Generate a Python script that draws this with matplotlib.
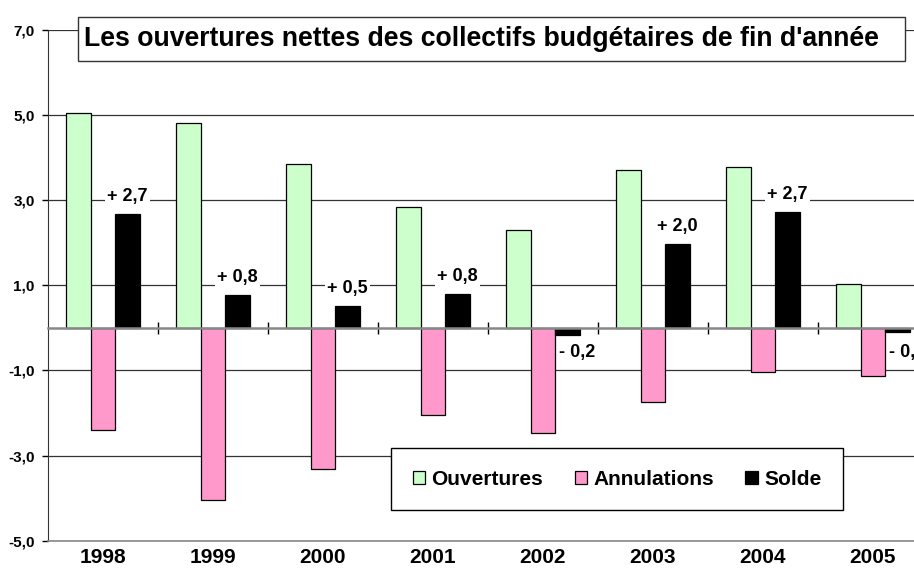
import numpy as np
import matplotlib
matplotlib.use('Agg')
import matplotlib.pyplot as plt
from matplotlib.patches import Rectangle

plt.rcParams['font.family'] = ['Liberation Sans', 'DejaVu Sans']
plt.rcParams['font.weight'] = 'bold'

years = ['1998', '1999', '2000', '2001', '2002', '2003', '2004', '2005']
ouvertures = [5.05, 4.82, 3.84, 2.85, 2.30, 3.71, 3.78, 1.03]
annulations = [-2.39, -4.05, -3.31, -2.04, -2.46, -1.74, -1.03, -1.13]
solde = [2.68, 0.77, 0.52, 0.80, -0.16, 1.97, 2.73, -0.10]
yticks = [-5, -3, -1, 1, 3, 5, 7]

title = "Les ouvertures nettes des collectifs budgétaires de fin d'année"

fig = plt.figure(figsize=(9.14, 5.74), dpi=100)
# plot area runs a bit past the right edge of the picture, like the original
ax = fig.add_axes([48/914, 33.3/574, 880/914, 510.7/574])

x = np.arange(len(years))
w = 0.223

ax.bar(x - w, ouvertures, w, color='#ccffcc', edgecolor='black', linewidth=0.9, zorder=3, label='Ouvertures')
ax.bar(x, annulations, w, color='#ff99cc', edgecolor='black', linewidth=0.9, zorder=3, label='Annulations')
ax.bar(x + w, solde, w, color='black', edgecolor='black', linewidth=0.9, zorder=3, label='Solde')

for xi, v in zip(x, solde):
    txt = ('+ ' if v > 0 else '- ') + f"{abs(v):.1f}".replace('.', ',')
    if v > 0:
        ax.annotate(txt, (xi + w, v), xytext=(0, 12.5), textcoords='offset points',
                    ha='center', va='center', fontsize=13, fontweight='bold', zorder=5,
                    bbox=dict(facecolor='white', edgecolor='none', pad=1.5))
    else:
        ax.annotate(txt, (xi + w, 0), xytext=(7, -18), textcoords='offset points',
                    ha='center', va='center', fontsize=13, fontweight='bold', zorder=5,
                    bbox=dict(facecolor='white', edgecolor='none', pad=1.5))

ax.set_xlim(-0.5, len(years) - 0.5)
ax.set_ylim(-5, 7)
ax.set_yticks(yticks)
ax.set_yticklabels([f"{v:.1f}".replace('.', ',') for v in yticks], fontsize=11, fontweight='bold')
ax.tick_params(axis='y', length=4, width=1, pad=5.5)
ax.set_xticks(x)
ax.set_xticklabels(years, fontsize=15, fontweight='bold')
ax.tick_params(axis='x', length=0, pad=5)
ax.grid(axis='y', color='#333333', linewidth=0.9, zorder=0)

for s in ['top', 'right']:
    ax.spines[s].set_visible(False)
ax.spines['bottom'].set_color('#888888')
ax.spines['bottom'].set_linewidth(1.2)
ax.spines['left'].set_color('#333333')

# zero line with category separators
sec = ax.secondary_xaxis(5/12)
sec.set_xticks(np.arange(len(years)) + 0.5)
sec.set_xticklabels([])
sec.tick_params(direction='inout', length=9, width=1, color='black')
sec.spines['bottom'].set_color('#888888')
sec.spines['bottom'].set_linewidth(1.8)
sec.set_zorder(4)

leg = ax.legend(loc='center', bbox_to_anchor=(0.6466, 0.1208), ncol=3, fontsize=15,
                frameon=True, fancybox=False, edgecolor='black', framealpha=1,
                handlelength=0.6, handleheight=0.6, handletextpad=0.3, columnspacing=1.5,
                borderpad=1.05, borderaxespad=0)
leg.get_frame().set_linewidth(1.0)
leg.set_zorder(6)

fig.patches.append(Rectangle((78/914, 1 - 61/574), 827/914, 44/574, transform=fig.transFigure,
                             facecolor='white', edgecolor='#333333', linewidth=1.0, zorder=7))
fig.text(481.5/914, 1 - 39/574, title, ha='center', va='center', fontsize=19.2,
         fontweight='bold', zorder=8)

fig.savefig('out.png', dpi=100)
